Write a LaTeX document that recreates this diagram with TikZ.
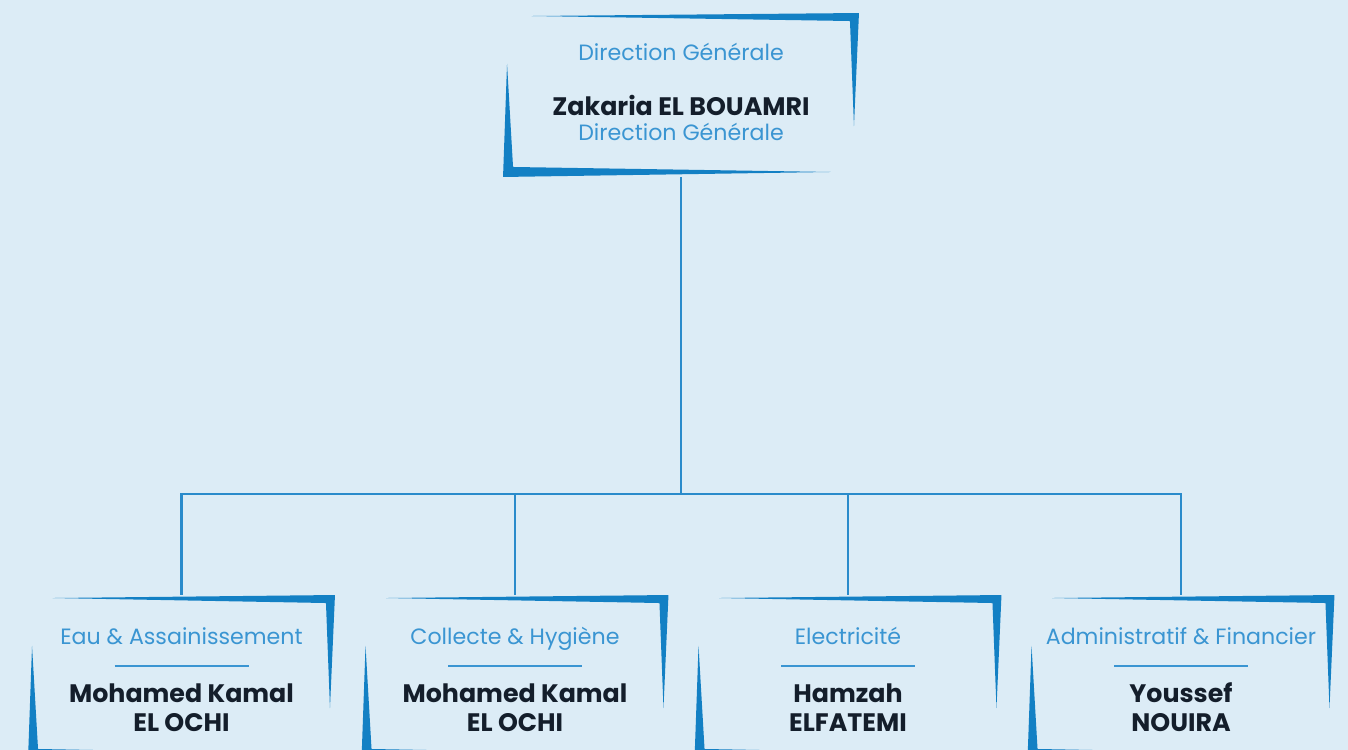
\documentclass[tikz,border=0pt]{standalone}
\usepackage{fontspec}
\setmainfont{Poppins}
\usetikzlibrary{calc,positioning}
\definecolor{sky}{HTML}{DCECF6}
\definecolor{frameblue}{HTML}{1380C4}
\definecolor{linkblue}{HTML}{2A8BCB}
\definecolor{roleblue}{HTML}{3A95D2}
\definecolor{ink}{HTML}{141E2B}

\tikzset{
  card/.style={inner sep=0pt,outer sep=0pt,minimum width=6.14cm,minimum height=3.28cm},
  topcard/.style={card,minimum width=7.12cm},
  role/.style={font=\fontsize{12.6}{15}\selectfont,text=roleblue,text height=9pt,text depth=3pt},
  person/.style={font=\fontsize{14.4}{16.6}\selectfont\bfseries,text=ink,align=center},
  link/.style={linkblue,line width=1.2pt},
  rule/.style={roleblue,line width=0.8pt},
  brush/.style={fill=frameblue},
}
\newcommand{\brushframe}[1]{%
  \fill[brush] ($(#1.north west)!0.08!(#1.north east)+(0,3)$) -- (#1.north east)
    -- ($(#1.north east)!0.69!(#1.south east)+(-5,0)$) -- ($(#1.north east)+(-9,8)$) -- cycle;
  \fill[brush] ($(#1.south west)!0.69!(#1.north west)+(4,0)$) -- (#1.south west)
    -- ($(#1.south west)!0.92!(#1.south east)+(0,-5)$) -- ($(#1.south west)+(10,-10)$) -- cycle;
}

\begin{document}
\begin{tikzpicture}[x=0.02cm,y=-0.02cm]
  \useasboundingbox (0,0) rectangle (1348,750);
  \clip (0,0) rectangle (1348,750);
  \fill[sky] (0,0) rectangle (1348,750);

  % Top: general direction
  \node[topcard] (dg) at (681,95) {};
  \node[role] (dg-role) at ($(dg.north)+(0,42.5)$) {Direction Générale};
  \node[person] (dg-name) at ($(dg.north)+(0,92)$) {Zakaria EL BOUAMRI};
  \node[role] (dg-sub) at ($(dg.north)+(0,122.5)$) {Direction Générale};

  % Bottom row: departments
  \foreach \id/\x/\dept/\who in {
      eau/181.5/Eau \& Assainissement/Mohamed Kamal\\EL OCHI,
      collecte/515/Collecte \& Hygiène/Mohamed Kamal\\EL OCHI,
      elec/848/Electricité/Hamzah\\ELFATEMI,
      admin/1181/Administratif \& Financier/Youssef\\NOUIRA} {
    \node[card] (\id) at (\x,677) {};
    \node[role] (\id-role) at ($(\id.north)+(0,44.5)$) {\dept};
    \draw[rule] ($(\id.north)+(-67,71)$) -- ($(\id.north)+(67,71)$);
    \node[person] (\id-name) at ($(\id.north)+(0,112.5)$) {\who};
  }

  % Connectors
  \coordinate (bus) at (681,494);
  \draw[link] (dg.south) -- (bus);
  \foreach \id in {eau,collecte,elec,admin}
    \draw[link] (bus) -| (\id.north);

  % Brush frames
  \foreach \id in {dg,eau,collecte,elec,admin}
    \brushframe{\id};
\end{tikzpicture}
\end{document}
